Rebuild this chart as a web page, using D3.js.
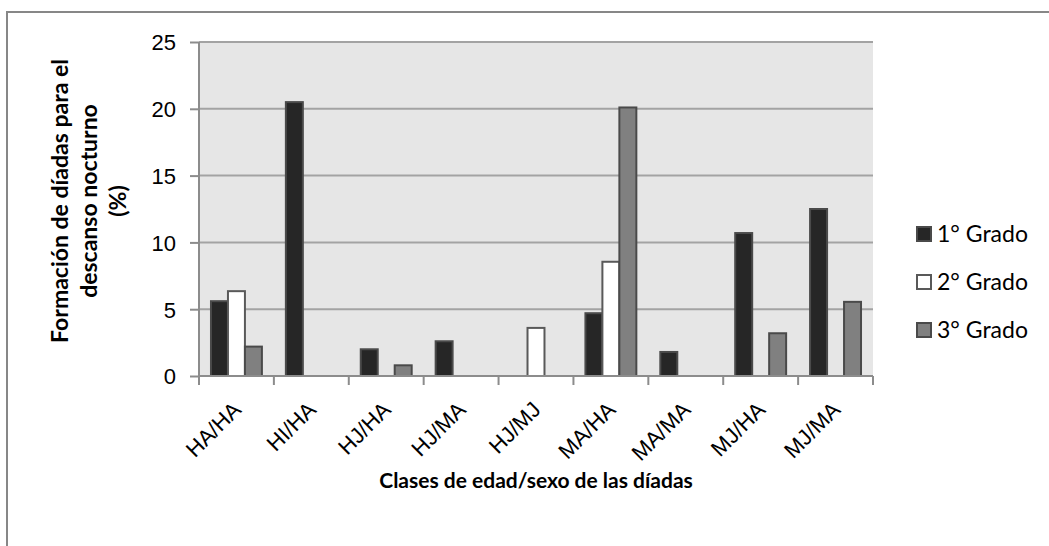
<!DOCTYPE html>
<html>
<head>
<meta charset="utf-8">
<script src="https://cdnjs.cloudflare.com/ajax/libs/d3/7.8.5/d3.min.js"></script>
<style>
  body { margin: 0; background: #fff; }
  svg { display: block; font-family: Lato, "Open Sans", sans-serif; }
  .tick text { font-size: 22px; fill: #000; }
</style>
</head>
<body>
<svg width="1049" height="546"></svg>
<script>
// datos
const categories = ['HA/HA', 'HI/HA', 'HJ/HA', 'HJ/MA', 'HJ/MJ', 'MA/HA', 'MA/MA', 'MJ/HA', 'MJ/MA'];
const series = ['1° Grado', '2° Grado', '3° Grado'];
const grado1 = [5.6, 20.5, 2.0, 2.6, 0, 4.7, 1.8, 10.7, 12.5];
const grado2 = [6.35, 0, 0, 0, 3.6, 8.55, 0, 0, 0];
const grado3 = [2.2, 0, 0.8, 0, 0, 20.1, 0, 3.2, 5.55];
const yTicks = [0, 5, 10, 15, 20, 25];
const colors = ['#262626', '#ffffff', '#808080'];

const values = [grado1, grado2, grado3];
const rows = [];
categories.forEach((c, i) => {
  series.forEach((s, j) => {
    rows.push({ cat: c, serie: s, value: values[j][i], idx: j });
  });
});

const svg = d3.select('svg');

// marco exterior del grafico
svg.append('rect')
  .attr('x', 7).attr('y', 12)
  .attr('width', 1100).attr('height', 600)
  .attr('fill', 'none')
  .attr('stroke', '#878787')
  .attr('stroke-width', 2);

const plotL = 199, plotT = 42, plotR = 873, plotB = 376;
const width = plotR - plotL;
const height = plotB - plotT;

const chart = svg.append('g').attr('transform', `translate(${plotL}, ${plotT})`);

const x0 = d3.scaleBand().domain(categories).range([0, width]).padding(0);
const groupW = x0.bandwidth() * 0.68;
const x1 = d3.scaleBand().domain(series)
  .range([(x0.bandwidth() - groupW) / 2, (x0.bandwidth() + groupW) / 2]).padding(0);
const y = d3.scaleLinear().domain([0, 25]).range([height, 0]);

// fondo del area de trazado
chart.append('rect')
  .attr('width', width).attr('height', height)
  .attr('fill', '#e6e6e6');

// cuadricula
chart.append('g')
  .selectAll('line')
  .data(yTicks.filter(t => t > 0))
  .enter().append('line')
  .attr('x1', 0).attr('x2', width)
  .attr('y1', d => y(d)).attr('y2', d => y(d))
  .attr('stroke', '#a3a3a3')
  .attr('stroke-width', 2);

// barras
chart.append('g')
  .selectAll('rect')
  .data(rows.filter(r => r.value > 0))
  .enter().append('rect')
  .attr('x', d => x0(d.cat) + x1(d.serie))
  .attr('y', d => y(d.value))
  .attr('width', x1.bandwidth())
  .attr('height', d => height - y(d.value))
  .attr('fill', d => colors[d.idx])
  .attr('stroke', d => d.idx === 1 ? '#595959' : '#4a4a4a')
  .attr('stroke-width', 2);

// eje Y
const yAxis = chart.append('g')
  .call(d3.axisLeft(y).tickValues(yTicks).tickSize(9).tickPadding(14));
yAxis.selectAll('line').attr('stroke', '#8c8c8c').attr('stroke-width', 2);
yAxis.select('.domain').attr('stroke', '#8c8c8c').attr('stroke-width', 2).attr('d', `M0,0V${height}`);
yAxis.selectAll('text').attr('dy', '0.36em');

// eje X
const xAxis = chart.append('g')
  .attr('transform', `translate(0, ${height})`)
  .call(d3.axisBottom(x0).tickSize(0).tickPadding(0));
xAxis.select('.domain').attr('stroke', '#8c8c8c').attr('stroke-width', 2).attr('d', `M0,0H${width}`);
xAxis.selectAll('.tick line').remove();
xAxis.selectAll('text')
  .attr('text-anchor', 'end')
  .attr('dy', 0)
  .attr('transform', 'translate(6, 35) rotate(-45)');

// marcas de categoria
xAxis.append('g')
  .selectAll('line')
  .data(d3.range(categories.length + 1))
  .enter().append('line')
  .attr('x1', d => d * x0.bandwidth()).attr('x2', d => d * x0.bandwidth())
  .attr('y1', 0).attr('y2', 9)
  .attr('stroke', '#8c8c8c').attr('stroke-width', 2);

// titulo eje X
svg.append('text')
  .attr('x', plotL + width / 2)
  .attr('y', 488)
  .attr('text-anchor', 'middle')
  .attr('font-size', 21)
  .attr('font-weight', 'bold')
  .text('Clases de edad/sexo de las díadas');

// titulo eje Y
const yLabel = svg.append('text')
  .attr('transform', 'translate(0, 201) rotate(-90)')
  .attr('text-anchor', 'middle')
  .attr('font-size', 23)
  .attr('font-weight', 'bold');
['Formación de díadas para el', 'descanso nocturno', '(%)'].forEach((t, i) => {
  yLabel.append('tspan').attr('x', 0).attr('y', 68 + i * 29).text(t);
});

// leyenda
const legend = svg.append('g').attr('transform', 'translate(916, 234)');
series.forEach((s, i) => {
  const g = legend.append('g').attr('transform', `translate(0, ${i * 48})`);
  g.append('rect')
    .attr('x', 1).attr('y', -7)
    .attr('width', 14).attr('height', 14)
    .attr('fill', colors[i])
    .attr('stroke', i === 1 ? '#595959' : '#4a4a4a')
    .attr('stroke-width', 2);
  g.append('text')
    .attr('x', 21).attr('y', 0)
    .attr('dy', '0.36em')
    .attr('font-size', 23)
    .text(s);
});
</script>
</body>
</html>
